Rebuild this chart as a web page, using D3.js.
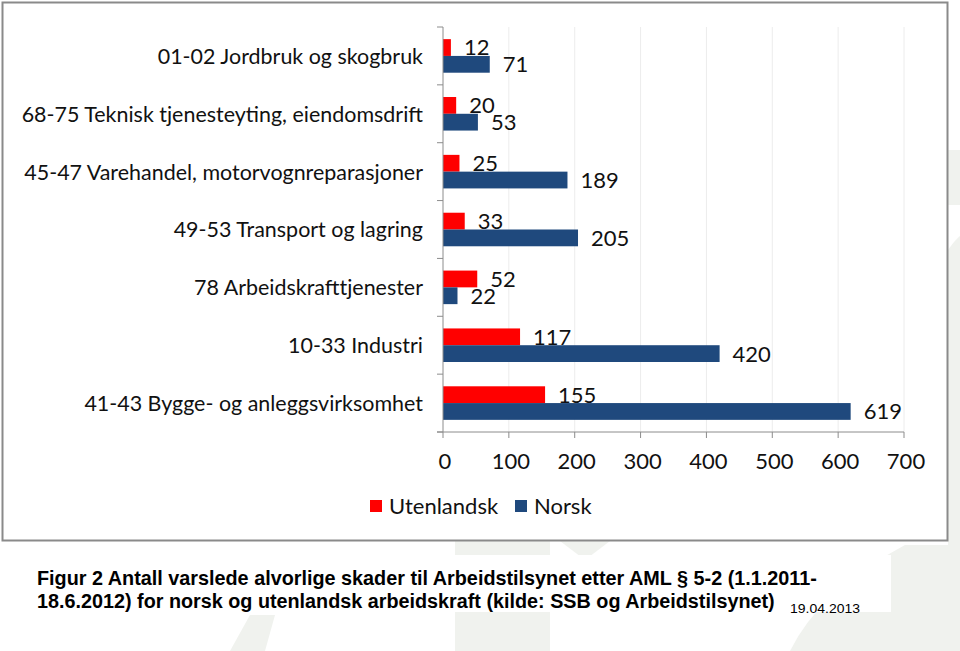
<!DOCTYPE html>
<html>
<head>
<meta charset="utf-8">
<script src="https://cdn.jsdelivr.net/npm/d3@7"></script>
<style>
  html, body { margin: 0; padding: 0; background: #ffffff; }
  svg { display: block; }
</style>
</head>
<body>
<svg id="chart" width="960" height="651"></svg>
<script>
// ---- data ----
const categories = [
  "01-02 Jordbruk og skogbruk",
  "68-75 Teknisk tjenesteyting, eiendomsdrift",
  "45-47 Varehandel, motorvognreparasjoner",
  "49-53 Transport og lagring",
  "78 Arbeidskrafttjenester",
  "10-33 Industri",
  "41-43 Bygge- og anleggsvirksomhet"
];
const seriesNames = ["Utenlandsk", "Norsk"];
const utenlandsk = [12, 20, 25, 33, 52, 117, 155];
const norsk = [71, 53, 189, 205, 22, 420, 619];
const xTicks = [0, 100, 200, 300, 400, 500, 600, 700];
const captionLines = [
  "Figur 2 Antall varslede alvorlige skader til Arbeidstilsynet etter AML § 5-2 (1.1.2011-",
  "18.6.2012) for norsk og utenlandsk arbeidskraft (kilde: SSB og Arbeidstilsynet)"
];
const dateText = "19.04.2013";

// ---- styles ----
const colors = ["#ff0000", "#1f497d"];
const font = "Lato, 'Open Sans', sans-serif";
const svg = d3.select("#chart");

function squeeze(sel, k) {
  sel.each(function () {
    const w = this.getComputedTextLength();
    d3.select(this).attr("textLength", w * k).attr("lengthAdjust", "spacingAndGlyphs");
  });
}

// background pattern (faint logo shapes)
const bg = svg.append("g").attr("fill", "#f0f2ee");
bg.append("rect").attr("x", 948).attr("y", 150).attr("width", 12).attr("height", 55);
bg.append("path").attr("d", "M948,250 Q955,240 960,236 L960,545 L948,545 Z");
bg.append("rect").attr("x", 455).attr("y", 541).attr("width", 95).attr("height", 110);
bg.append("path").attr("d", "M560,541 L610,541 L585,560 Z");
bg.append("path").attr("d", "M790,651 Q820,590 905,545 L960,545 L960,651 Z");
bg.append("path").attr("d", "M230,651 L250,615 L275,615 L265,651 Z");
// white box behind caption
svg.append("rect").attr("x", 30).attr("y", 555).attr("width", 861).attr("height", 57).attr("fill", "#ffffff");

// chart box
svg.append("rect")
  .attr("x", 2.5).attr("y", 2.5).attr("width", 945).attr("height", 538)
  .attr("fill", "#ffffff").attr("stroke", "#8a8a8a").attr("stroke-width", 2);

// ---- scales ----
const x = d3.scaleLinear().domain([0, 700]).range([443, 904]);
const y = d3.scaleBand().domain(categories).range([27, 432]).paddingInner(0.42).paddingOuter(0.21);
const sub = d3.scaleBand().domain(seriesNames).range([0, y.bandwidth()]);

// gridlines
svg.append("g").selectAll("line").data(xTicks.slice(1)).join("line")
  .attr("x1", d => x(d)).attr("x2", d => x(d))
  .attr("y1", 27).attr("y2", 432)
  .attr("stroke", "#ececec").attr("stroke-width", 1);

// bars
const rows = categories.map((c, i) => ({ c, vals: [utenlandsk[i], norsk[i]] }));
const groups = svg.append("g").selectAll("g").data(rows).join("g")
  .attr("transform", d => `translate(0,${y(d.c)})`);
groups.selectAll("rect").data(d => d.vals.map((v, j) => ({ v, s: seriesNames[j], j }))).join("rect")
  .attr("x", x(0)).attr("y", d => sub(d.s))
  .attr("width", d => x(d.v) - x(0)).attr("height", sub.bandwidth())
  .attr("fill", d => colors[d.j]);
groups.selectAll("text").data(d => d.vals.map((v, j) => ({ v, s: seriesNames[j], j }))).join("text")
  .attr("x", d => x(d.v) + 13).attr("y", d => sub(d.s) + sub.bandwidth() / 2)
  .attr("dy", "0.36em")
  .attr("font-family", font).attr("font-size", 22).attr("fill", "#111")
  .text(d => d.v);

// category axis
const yAxis = svg.append("g").attr("transform", `translate(${x(0)},0)`);
yAxis.append("line").attr("x1", 0).attr("x2", 0).attr("y1", 27).attr("y2", 432)
  .attr("stroke", "#8c8c8c");
const bnd = categories.map(c => y(c) - y.step() * y.paddingInner() / 2);
bnd.push(432);
bnd[0] = 27;
yAxis.selectAll("line.tk").data(bnd).join("line").attr("class", "tk")
  .attr("x1", -6).attr("x2", 0).attr("y1", d => d).attr("y2", d => d)
  .attr("stroke", "#8c8c8c");
const catLabels = svg.append("g").selectAll("text").data(categories).join("text")
  .attr("x", 423).attr("y", d => y(d) + y.bandwidth() / 2).attr("dy", "0.36em")
  .attr("text-anchor", "end")
  .attr("font-family", font).attr("font-size", 22).attr("fill", "#111")
  .text(d => d);
squeeze(catLabels, 0.975);

// value axis
const xAxis = svg.append("g").attr("transform", "translate(0,432)");
xAxis.append("line").attr("x1", 437).attr("x2", x(700)).attr("y1", 0).attr("y2", 0)
  .attr("stroke", "#8c8c8c");
xAxis.selectAll("line.tk").data(xTicks).join("line").attr("class", "tk")
  .attr("x1", d => x(d)).attr("x2", d => x(d)).attr("y1", 0).attr("y2", 6)
  .attr("stroke", "#8c8c8c");
xAxis.selectAll("text").data(xTicks).join("text")
  .attr("x", d => x(d) + 2).attr("y", 29).attr("dy", "0.36em")
  .attr("text-anchor", "middle")
  .attr("font-family", font).attr("font-size", 22).attr("fill", "#111")
  .text(d => d);

// legend
const legendX = [370, 515];
const lg = svg.append("g").selectAll("g").data(seriesNames).join("g")
  .attr("transform", (d, i) => `translate(${legendX[i]},506)`);
lg.append("rect").attr("x", 0).attr("y", -6).attr("width", 12).attr("height", 12)
  .attr("fill", (d, i) => colors[i]);
lg.append("text").attr("x", 19).attr("y", 0).attr("dy", "0.36em")
  .attr("font-family", font).attr("font-size", 22).attr("fill", "#111")
  .text(d => d);

// caption (horizontally condensed via scale transform)
const capWidths = [780, 738];
captionLines.forEach((line, i) => {
  const g = svg.append("g");
  const t = g.append("text").attr("x", 0).attr("y", 0)
    .attr("font-family", "'Liberation Sans Narrow', 'Liberation Sans', Arial, sans-serif")
    .attr("font-weight", "bold").attr("font-size", 21).attr("fill", "#000")
    .text(line);
  const w = t.node().getComputedTextLength();
  g.attr("transform", `translate(37,${585 + i * 23}) scale(${capWidths[i] / w},1)`);
});
const dg = svg.append("g");
const dt = dg.append("text").attr("x", 0).attr("y", 0)
  .attr("font-family", "'Liberation Sans Narrow', 'Liberation Sans', Arial, sans-serif")
  .attr("font-size", 13).attr("fill", "#000").text(dateText);
dg.attr("transform", `translate(790,613) scale(${70 / dt.node().getComputedTextLength()},1)`);
</script>
</body>
</html>
